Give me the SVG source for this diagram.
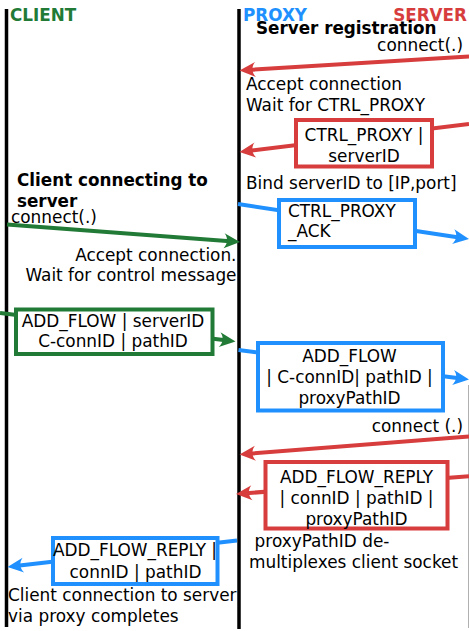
<svg xmlns="http://www.w3.org/2000/svg" width="469" height="631" viewBox="0 0 469 631">
<style>
text{font-family:"DejaVu Sans","Liberation Sans",sans-serif;font-size:16.9px;fill:#000}
.b{font-weight:bold;font-size:16.8px}
.c{text-anchor:middle}
.e{text-anchor:end}
.life{stroke:#000;stroke-width:3.5;fill:none}
.r{stroke:#d73d3d}
.g{stroke:#217a36}
.u{stroke:#2090ff}
.ln{stroke-width:4;fill:none}
.box{fill:#fff;stroke-width:4}
</style>
<defs>
<marker id="mr" viewBox="-2 -9 20 18" markerWidth="20" markerHeight="18" refX="6" refY="0" orient="auto" markerUnits="userSpaceOnUse"><path d="M16,0 L0,-7.5 C4,-3 4,3 0,7.5 Z" fill="#d73d3d"/></marker>
<marker id="mg" viewBox="-2 -9 20 18" markerWidth="20" markerHeight="18" refX="6" refY="0" orient="auto" markerUnits="userSpaceOnUse"><path d="M16,0 L0,-7.5 C4,-3 4,3 0,7.5 Z" fill="#217a36"/></marker>
<marker id="mb" viewBox="-2 -9 20 18" markerWidth="20" markerHeight="18" refX="6" refY="0" orient="auto" markerUnits="userSpaceOnUse"><path d="M16,0 L0,-7.5 C4,-3 4,3 0,7.5 Z" fill="#2090ff"/></marker>
</defs>

<g id="lifelines">
<line class="life" x1="6.5" y1="9" x2="6.5" y2="627"/>
<line class="life" x1="239" y1="9" x2="239" y2="629"/>
<line x1="468.5" y1="385" x2="468.5" y2="628" stroke="#b0b0b0" stroke-width="1"/>
</g>

<g id="titles">
<text class="b" x="10" y="20.5" style="fill:#217a36">CLIENT</text>
<text class="b" x="243" y="20.5" style="fill:#2090ff">PROXY</text>
<text class="b e" x="467" y="20.5" style="fill:#d73d3d">SERVER</text>
</g>

<g id="connectors">
<path class="ln r" d="M469,56.5 L249.48,69.89" marker-end="url(#mr)"/>
<path class="ln r" d="M469,124 L249.43,150.79" marker-end="url(#mr)"/>
<path class="ln u" d="M238,204 L459.11,237.5" marker-end="url(#mb)"/>
<path class="ln g" d="M7,224.5 L230.03,241.25" marker-end="url(#mg)"/>
<path class="ln g" d="M0,313 L225.57,340.3" marker-end="url(#mg)"/>
<path class="ln u" d="M238.5,350 L459.08,378.23" marker-end="url(#mb)"/>
<path class="ln r" d="M469,436.5 L249.47,453.72" marker-end="url(#mr)"/>
<path class="ln r" d="M469,476.3 L245.97,493.24" marker-end="url(#mr)"/>
<path class="ln u" d="M237,540.5 L17.43,565.85" marker-end="url(#mb)"/>
</g>

<g id="labels">
<text class="b" x="256" y="34">Server registration</text>
<text class="e" x="463" y="51">connect(.)</text>
<text x="246" y="89.5">Accept connection</text>
<text x="246" y="110.5">Wait for CTRL_PROXY</text>
<text x="246" y="188.7">Bind serverID to [IP,port]</text>
<text class="b" x="17" y="186">Client connecting to</text>
<text class="b" x="17" y="207">server</text>
<text x="11" y="222.5">connect(.)</text>
<text class="e" x="236.5" y="260.5">Accept connection.</text>
<text class="e" x="236.5" y="280.5">Wait for control message</text>
<text class="e" x="463" y="431.5">connect (.)</text>
<text x="254.6" y="547">proxyPathID de-</text>
<text x="249" y="567.5">multiplexes client socket</text>
<text x="8" y="601">Client connection to server</text>
<text x="8" y="622">via proxy completes</text>
</g>

<g id="ctrl_proxy">
<rect class="box r" x="296" y="120" width="136" height="46.5"/>
<text class="c" x="364" y="140.5">CTRL_PROXY |</text>
<text class="c" x="364" y="161.5">serverID</text>
</g>

<g id="ctrl_proxy_ack">
<rect class="box u" x="279" y="200" width="136" height="47"/>
<text x="288" y="216.7">CTRL_PROXY</text>
<text x="288" y="237.3">_ACK</text>
</g>

<g id="add_flow_client">
<rect class="box g" x="16" y="309.5" width="196.5" height="44.5"/>
<text class="c" x="113" y="326.7">ADD_FLOW | serverID</text>
<text class="c" x="113" y="346.7">C-connID | pathID</text>
</g>

<g id="add_flow_proxy">
<rect class="box u" x="258" y="343" width="185" height="67.5"/>
<text class="c" x="349.5" y="361.5">ADD_FLOW</text>
<text class="c" x="349.5" y="383">| C-connID| pathID |</text>
<text class="c" x="349.5" y="404">proxyPathID</text>
</g>

<g id="add_flow_reply_server">
<rect class="box r" x="265.5" y="462" width="182" height="66.5"/>
<text class="c" x="356.5" y="483">ADD_FLOW_REPLY</text>
<text class="c" x="356.5" y="504">| connID | pathID |</text>
<text class="c" x="356.5" y="524.5">proxyPathID</text>
</g>

<g id="add_flow_reply_client">
<rect class="box u" x="53" y="538" width="164.5" height="46"/>
<text class="c" x="135" y="556">ADD_FLOW_REPLY |</text>
<text class="c" x="135.5" y="578">connID | pathID</text>
</g>
</svg>
